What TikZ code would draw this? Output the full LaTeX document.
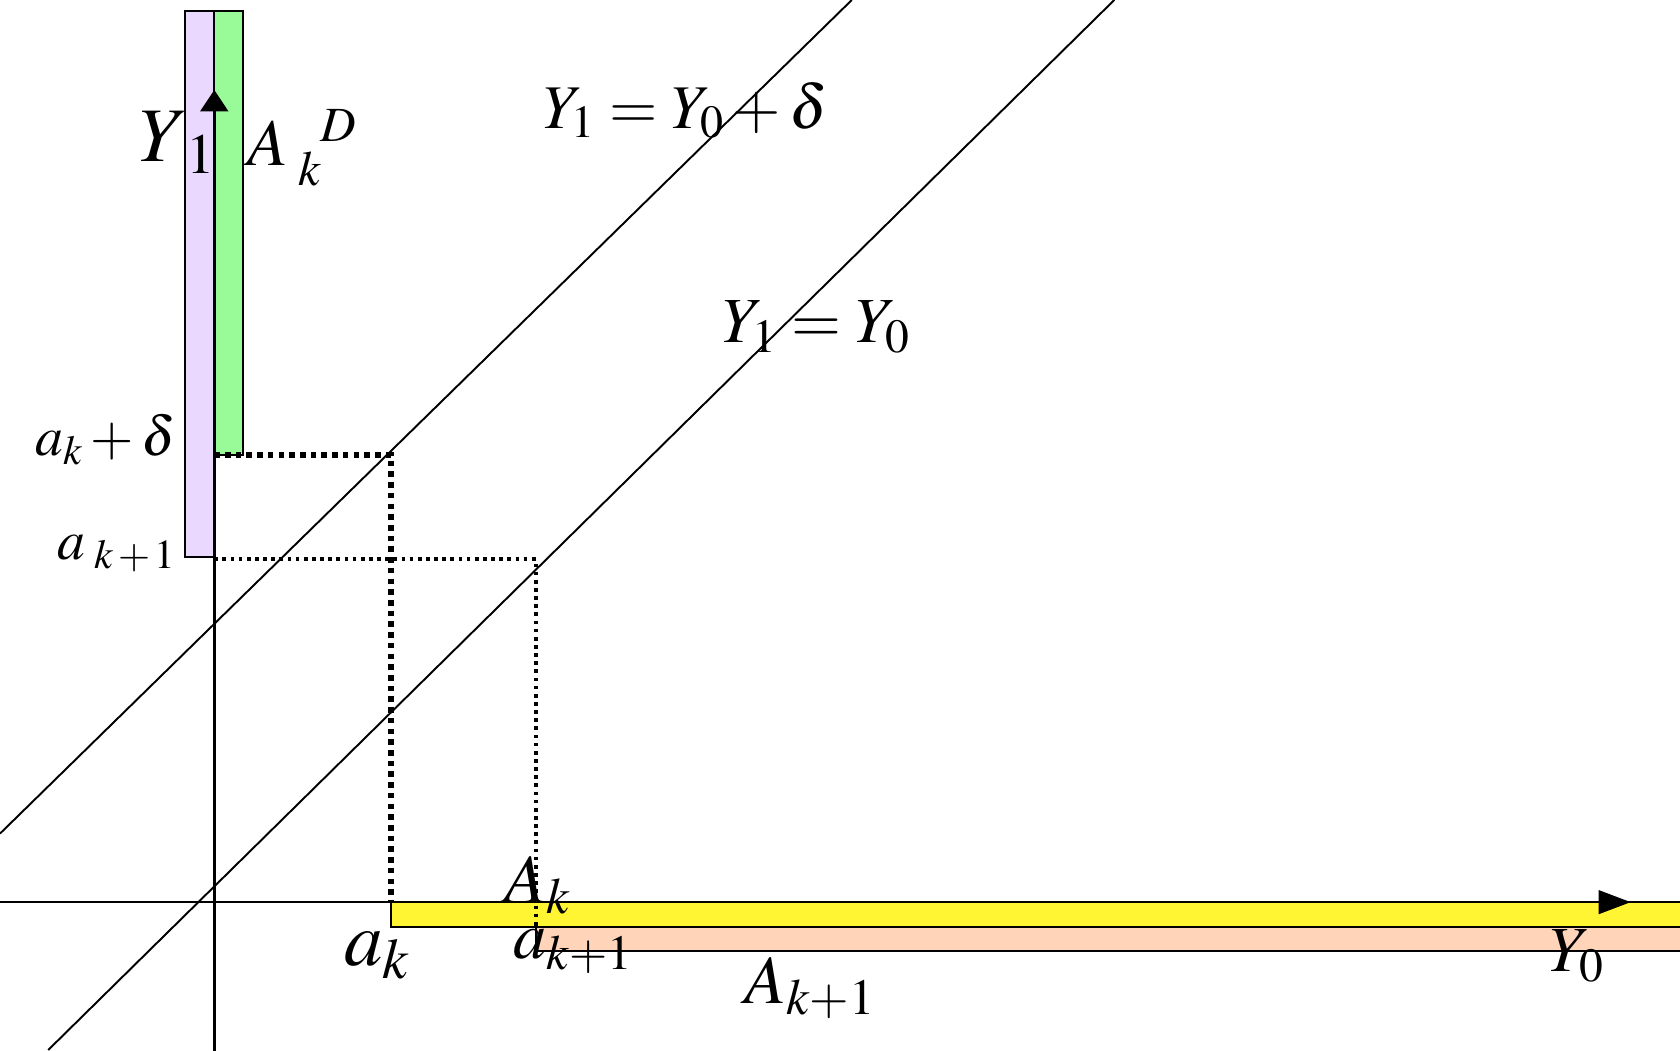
\documentclass[tikz,border=0pt]{standalone}
\usepackage{mathptmx}
\usetikzlibrary{arrows.meta}
\newcommand\fsz[1]{\fontsize{#1}{#1}\selectfont}
\definecolor{lav}{RGB}{234,216,255}
\definecolor{lgreen}{RGB}{152,251,152}
\definecolor{yel}{RGB}{255,245,50}
\definecolor{peach}{RGB}{255,212,184}
\begin{document}
\begin{tikzpicture}[x=0.5pt,y=-0.5pt,
  box/.style={draw=black,line width=0.9pt},
  axisline/.style={line width=1.2pt},
  diag/.style={line width=0.9pt},
  thickdot/.style={line width=2.8pt,dash pattern=on 2.6pt off 2.4pt},
  thindot/.style={line width=1.7pt,dash pattern=on 1.7pt off 2.1pt},
  lab/.style={inner sep=0pt,text=black}]
\useasboundingbox (0,0) rectangle (1568,980);
\clip (0,0) rectangle (1568,980);
% coordinates
\coordinate (O) at (200,842);
\coordinate (ytop) at (200,84);
\coordinate (ybot) at (200,985);
\coordinate (xl) at (-5,842);
\coordinate (xr) at (1522,842);
\coordinate (L1a) at (0,778);
\coordinate (L1b) at (795,0);
\coordinate (L2a) at (45,980);
\coordinate (L2b) at (1040,0);
\coordinate (Q1) at (200,425);
\coordinate (P1) at (365,425);
\coordinate (P1b) at (365,842);
\coordinate (Q2) at (200,522);
\coordinate (P2) at (500,522);
\coordinate (P2b) at (500,865);
% bands
\draw[box,fill=lav] (173,10) rectangle (200,520);
\draw[box,fill=lgreen] (200,10) rectangle (227,425);
\draw[box,fill=yel] (365,842) rectangle (1600,865);
\draw[box,fill=peach] (500,865) rectangle (1600,888);
% diagonal lines
\draw[diag] (L1a) -- (L1b);
\draw[diag] (L2a) -- (L2b);
% dotted
\draw[thickdot] (Q1) -- (P1) -- (P1b);
\draw[thindot] (Q2) -- (P2) -- (P2b);
% axes
\draw[axisline,-{Triangle[length=10pt,width=13pt]}] (ybot) -- (ytop);
\draw[axisline,-{Triangle[length=15pt,width=11pt]}] (xl) -- (xr);
% labels
\node[lab] (lY1) at (166,133) {\fsz{36}$Y_{\;1}$};
\node[lab] (lAkD) at (282,138) {\fsz{31}$A_{\;k}^{\;\;\;D}$};
\node[lab] (leq1) at (640,103) {\fsz{29}$Y_1 = Y_0 + \delta$};
\node[lab] (leq2) at (762,305) {\fsz{30}$Y_1 = Y_0$};
\node[lab,anchor=east] (lakd) at (165,410) {\fsz{26}$a_k + \delta$};
\node[lab,anchor=east] (lak1y) at (165,517) {\fsz{26}$a_{\;k\,+\,1}$};
\node[lab] (lak) at (352,892) {\fsz{36}$a_k$};
\node[lab] (lak1) at (535,888) {\fsz{31}$a_{k+1}$};
\node[lab] (lAk) at (502,826) {\fsz{32}$A_k$};
\node[lab] (lAk1) at (756,922) {\fsz{32}$A_{k+1}$};
\node[lab] (lY0) at (1472,892) {\fsz{30}$Y_0$};
\end{tikzpicture}
\end{document}
